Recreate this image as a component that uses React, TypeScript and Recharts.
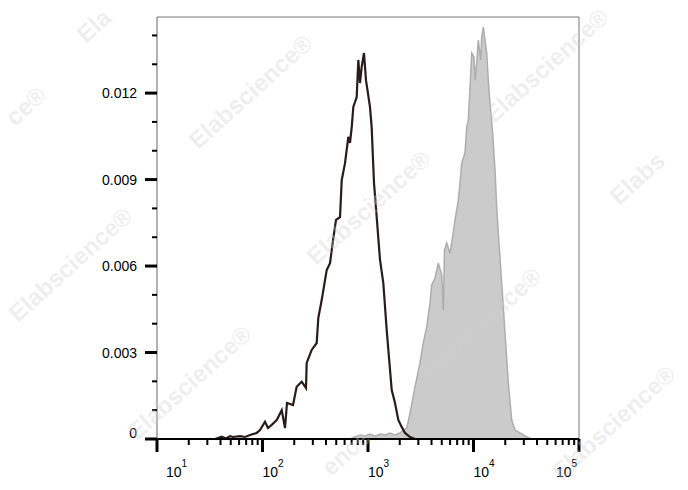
import React from 'react';
import { ComposedChart, Area, Line, XAxis, YAxis, ReferenceLine } from 'recharts';

// Black outlined histogram (sample)
const blackX = [10.7, 25.6, 35.5, 41.1, 45.1, 49.2, 52.5, 61.2, 68.3, 76.2, 88.1, 94.7, 105.6, 112.8, 122.2, 136.4, 152.1, 163.4, 170.7, 194.5, 210.8, 235.3, 258.4, 262.4, 292.6, 326.3, 338, 364, 406, 436.5, 466, 497.6, 543, 563.6, 605.6, 650.8, 675, 701, 725.8, 781.6, 809.6, 839.5, 871, 916, 957, 1044, 1083, 1140, 1209, 1300, 1397, 1504, 1678, 1803, 1938, 2085, 2243, 2501, 2788, 100000];
const blackY = [0, 0, 0, 0.00008, 0.00002, 0.0001, 0.00007, 0.0001, 0.00007, 0.00014, 0.00021, 0.00031, 0.0006, 0.00038, 0.00049, 0.00066, 0.001, 0.00038, 0.00125, 0.00118, 0.00181, 0.00199, 0.00177, 0.00264, 0.00309, 0.00333, 0.0042, 0.00482, 0.00586, 0.0061, 0.0069, 0.0076, 0.0077, 0.00898, 0.00957, 0.01048, 0.01027, 0.01082, 0.01152, 0.01186, 0.01315, 0.01235, 0.0129, 0.01339, 0.01245, 0.01152, 0.01082, 0.00888, 0.0077, 0.00621, 0.00541, 0.00378, 0.0017, 0.00125, 0.00066, 0.00042, 0.00021, 0.00007, 0, 0];

// Gray filled histogram (control)
const grayX = [675, 753, 840, 937, 1044, 1165, 1300, 1449, 1616, 1803, 2010, 2161, 2328, 2501, 2788, 3110, 3342, 3598, 3870, 4017, 4315, 4637, 5000, 5177, 5311, 5570, 5986, 6213, 6681, 7180, 7450, 7730, 8300, 8630, 8930, 9270, 9620, 10110, 10330, 10720, 11110, 11700, 11960, 12390, 12850, 13340, 13810, 14330, 15200, 15990, 16590, 17180, 18500, 19890, 21380, 23030, 24730, 27600, 31920, 35630];
const grayY = [0, 0.00007, 0.00014, 0.0001, 0.00017, 0.0001, 0.00017, 0.00014, 0.00021, 0.00014, 0.00021, 0.00031, 0.00038, 0.0009, 0.0018, 0.00264, 0.00333, 0.00388, 0.00472, 0.00534, 0.00558, 0.0061, 0.00569, 0.00447, 0.00656, 0.0068, 0.00645, 0.0068, 0.0076, 0.00829, 0.00888, 0.00957, 0.00992, 0.01082, 0.01106, 0.01221, 0.01339, 0.01325, 0.01245, 0.01304, 0.01384, 0.01315, 0.01394, 0.01429, 0.01384, 0.01339, 0.01245, 0.01165, 0.01061, 0.00933, 0.00805, 0.00715, 0.00541, 0.00368, 0.00194, 0.00066, 0.00031, 0.00021, 0.00007, 0];

// Axis ticks
const xTicks = [10, 20, 30, 40, 50, 60, 70, 80, 90, 100, 200, 300, 400, 500, 600, 700, 800, 900, 1000, 2000, 3000, 4000, 5000, 6000, 7000, 8000, 9000, 10000, 20000, 30000, 40000, 50000, 60000, 70000, 80000, 90000, 100000];
const xMajor = [10, 100, 1000, 10000, 100000];
const xExp = ['1', '2', '3', '4', '5'];
const yTicks = [0, 0.001, 0.002, 0.003, 0.004, 0.005, 0.006, 0.007, 0.008, 0.009, 0.01, 0.011, 0.012, 0.013, 0.014];
const yMajor = [0, 0.003, 0.006, 0.009, 0.012];
const yLabels = ['0', '0.003', '0.006', '0.009', '0.012'];
const yMax = 0.01464;

// Watermark texts (visible parts), anchored at their start
const wmText = ['Ela', 'ce®', 'Elabscience®', 'Elabscience®', 'Elabscience®', 'Elabscience®', 'Elabs', 'Elabscience®', 'Elabscience®', 'Elabscience®', 'ence'];
const wmPos = [
  [86, 44], [15, 127], [198, 150], [494, 124], [316, 266], [18, 323],
  [619, 206], [427, 383], [137, 441], [561, 481], [331, 477],
];

const blackData = blackX.map((x, i) => ({ x, y: blackY[i] }));
const grayData = grayX.map((x, i) => ({ x, y: grayY[i] }));

const FONT = '"Liberation Sans", Arial, sans-serif';

const XTick = (props: any) => {
  const { x, y, payload } = props;
  const v = payload.value;
  const mi = xMajor.findIndex((m) => Math.abs(m - v) / m < 1e-6);
  if (mi < 0) {
    return <line x1={x} x2={x} y1={y} y2={y + 6} stroke="#000" strokeWidth={2} />;
  }
  const dx = mi === 0 ? 9 : mi === xMajor.length - 1 ? -23 : 0;
  return (
    <g>
      <line x1={x} x2={x} y1={y} y2={y + 13} stroke="#000" strokeWidth={3} />
      <text x={x + dx} y={y + 38} fontSize={14} fontFamily={FONT} fill="#000">
        10<tspan dy={-10} fontSize={10}>{xExp[mi]}</tspan>
      </text>
    </g>
  );
};

const YTick = (props: any) => {
  const { x, y, payload } = props;
  const v = payload.value;
  const mi = yMajor.findIndex((m) => Math.abs(m - v) < 1e-9);
  if (mi < 0) {
    return <line x1={x - 5} x2={x} y1={y} y2={y} stroke="#000" strokeWidth={2} />;
  }
  return (
    <g>
      <line x1={x - 12} x2={x} y1={y} y2={y} stroke="#000" strokeWidth={3} />
      <text x={x - 20} y={y + (mi === 0 ? -1 : 5)} textAnchor="end" fontSize={14} fontFamily={FONT} fill="#000">
        {yLabels[mi]}
      </text>
    </g>
  );
};

export default function App() {
  return (
    <div style={{ position: 'absolute', left: 0, top: 0, width: 688, height: 490, background: '#fff', overflow: 'hidden' }}>
      <ComposedChart width={688} height={490} margin={{ top: 17, right: 109, bottom: 21, left: 97 }}>
        <XAxis
          dataKey="x"
          type="number"
          scale="log"
          domain={[10, 100000]}
          allowDataOverflow
          ticks={xTicks}
          interval={0}
          tickSize={0}
          tickMargin={0}
          tick={<XTick />}
          axisLine={{ stroke: '#000', strokeWidth: 2 }}
          tickLine={false}
          height={30}
        />
        <YAxis
          type="number"
          domain={[0, yMax]}
          allowDataOverflow
          ticks={yTicks}
          interval={0}
          tickSize={0}
          tickMargin={0}
          tick={<YTick />}
          axisLine={{ stroke: '#666', strokeWidth: 1 }}
          tickLine={false}
          width={60}
        />
        <ReferenceLine y={yMax} stroke="#777" strokeWidth={1} />
        <ReferenceLine x={100000} stroke="#777" strokeWidth={1} />
        <Area
          data={grayData}
          dataKey="y"
          type="linear"
          fill="#cbcbcb"
          fillOpacity={1}
          stroke="#adadad"
          strokeWidth={1.5}
          isAnimationActive={false}
          dot={false}
          activeDot={false}
        />
        <Line
          data={blackData}
          dataKey="y"
          type="linear"
          stroke="#2a1b1b"
          strokeWidth={2.2}
          dot={false}
          activeDot={false}
          isAnimationActive={false}
        />
      </ComposedChart>
      <svg width={688} height={490} style={{ position: 'absolute', left: 0, top: 0, pointerEvents: 'none' }}>
        {wmText.map((t, i) => {
          const [sx, sy] = wmPos[i];
          return (
            <text
              key={i}
              x={sx}
              y={sy}
              transform={`rotate(-42 ${sx} ${sy})`}
              textAnchor="start"
              fontSize={24}
              fontWeight="bold"
              fontFamily={FONT}
              fill="#d0d0d0"
              fillOpacity={0.35}
            >
              {t}
            </text>
          );
        })}
      </svg>
    </div>
  );
}
